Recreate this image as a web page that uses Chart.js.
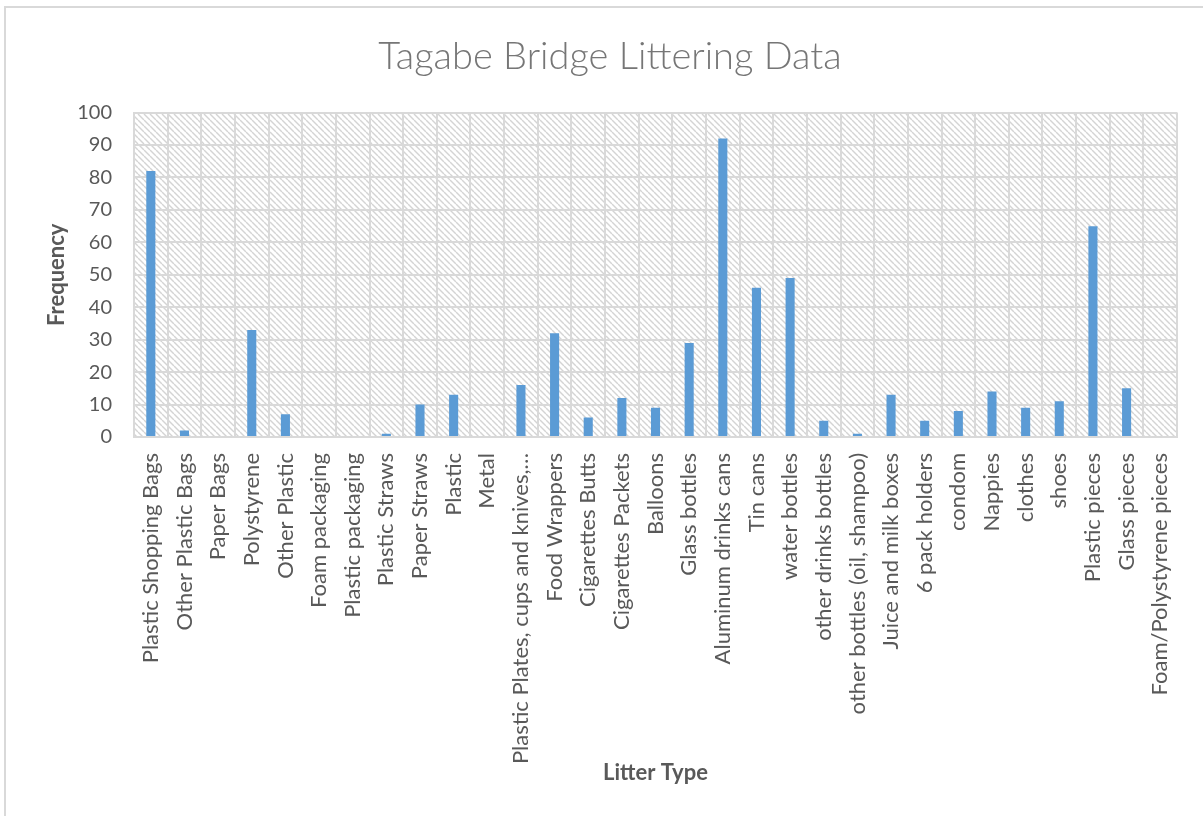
<!DOCTYPE html>
<html>
<head>
<meta charset="utf-8">
<script src="https://cdn.jsdelivr.net/npm/chart.js@4.4.1/dist/chart.umd.min.js"></script>
<style>
  html, body { margin: 0; padding: 0; background: #ffffff; overflow: hidden; }
  #frame {
    position: absolute; left: 4px; top: 6px; width: 1260px; height: 900px;
    border: 2px solid #d9d9d9; box-sizing: border-box;
  }
  #wrap { position: absolute; left: 0; top: 0; width: 1203px; height: 816px; }
</style>
</head>
<body>
<div id="frame"></div>
<div id="wrap"><canvas id="myChart"></canvas></div>
<script>
// litter categories as labelled on the x axis
const litterTypes = [
  "Plastic Shopping Bags", "Other Plastic Bags", "Paper Bags", "Polystyrene",
  "Other Plastic", "Foam packaging", "Plastic packaging", "Plastic Straws",
  "Paper Straws", "Plastic", "Metal", "Plastic Plates, cups and knives,\u2026",
  "Food Wrappers", "Cigarettes Butts", "Cigarettes Packets", "Balloons",
  "Glass bottles", "Aluminum drinks cans", "Tin cans", "water bottles",
  "other drinks bottles", "other bottles (oil, shampoo)", "Juice and milk boxes",
  "6 pack holders", "condom", "Nappies", "clothes", "shoes", "Plastic pieces",
  "Glass pieces", "Foam/Polystyrene pieces"
];

// counts
const frequency = [
  82, 2, 0, 33,
  7, 0, 0, 1,
  10, 13, 0, 16,
  32, 6, 12, 9,
  29, 92, 46, 49,
  5, 1, 13,
  5, 8, 14, 9, 11, 65,
  15, 0
];

const yMin = 0;
const yMax = 100;
const yStep = 10;

const gridGray = "#d9d9d9";
const textGray = "#595959";

function makeHatch() {
  const size = 6;
  const tile = document.createElement("canvas");
  tile.width = size;
  tile.height = size;
  const c = tile.getContext("2d");
  c.fillStyle = "#ffffff";
  c.fillRect(0, 0, size, size);
  c.strokeStyle = "#d4d4d4";
  c.lineWidth = 1.4;
  for (let x = -size; x <= size; x += size) {
    c.beginPath();
    c.moveTo(x, 0);
    c.lineTo(x + size, size);
    c.stroke();
  }
  return c.createPattern(tile, "repeat");
}

// fills the plot area with the light diagonal hatch before the grid is drawn
const hatchBackground = {
  id: "hatchBackground",
  beforeDraw(chart) {
    const area = chart.chartArea;
    const ctx = chart.ctx;
    ctx.save();
    ctx.fillStyle = makeHatch();
    ctx.fillRect(area.left, area.top, area.right - area.left, area.bottom - area.top);
    ctx.restore();
  },
};

function chart() {
  const ctx = document.getElementById("myChart");
  new Chart(ctx, {
    type: "bar",
    data: {
      labels: litterTypes,
      datasets: [
        {
          label: "Frequency",
          data: frequency,
          backgroundColor: "#5b9bd5",
          barPercentage: 0.27,
          categoryPercentage: 1.0,
        },
      ],
    },
    options: {
      responsive: true,
      maintainAspectRatio: false,
      animation: false,
      layout: { padding: { left: 40, right: 23, top: 0, bottom: 0 } },
      plugins: {
        legend: { display: false },
        tooltip: { enabled: false },
        title: {
          display: true,
          text: "Tagabe Bridge Littering Data",
          color: "#767676",
          font: { family: "Lato", size: 38, weight: "300" },
          padding: { top: 34, bottom: 33 },
        },
      },
      scales: {
        x: {
          afterFit(scale) { scale.height = 816 - 437; },
          grid: { color: gridGray, lineWidth: 2, drawTicks: false, offset: true },
          border: { color: gridGray, width: 2 },
          ticks: {
            autoSkip: false,
            maxRotation: 90,
            minRotation: 90,
            padding: 16,
            color: textGray,
            font: { family: "Lato", size: 22 },
          },
          title: {
            display: true,
            text: "Litter Type",
            color: textGray,
            font: { family: "Lato", size: 22, weight: "bold" },
            padding: { top: 4, bottom: 30 },
          },
        },
        y: {
          min: yMin,
          max: yMax,
          afterFit(scale) { scale.width = 134 - 40; },
          grid: { color: gridGray, lineWidth: 2, drawTicks: false },
          border: { color: gridGray, width: 2 },
          ticks: {
            stepSize: yStep,
            padding: 22,
            color: textGray,
            font: { family: "Lato", size: 20 },
          },
          title: {
            display: true,
            text: "Frequency",
            color: textGray,
            font: { family: "Lato", size: 22, weight: "bold" },
            padding: { top: 4, bottom: 4 },
          },
        },
      },
    },
    plugins: [hatchBackground],
  });
}

chart();
</script>
</body>
</html>
